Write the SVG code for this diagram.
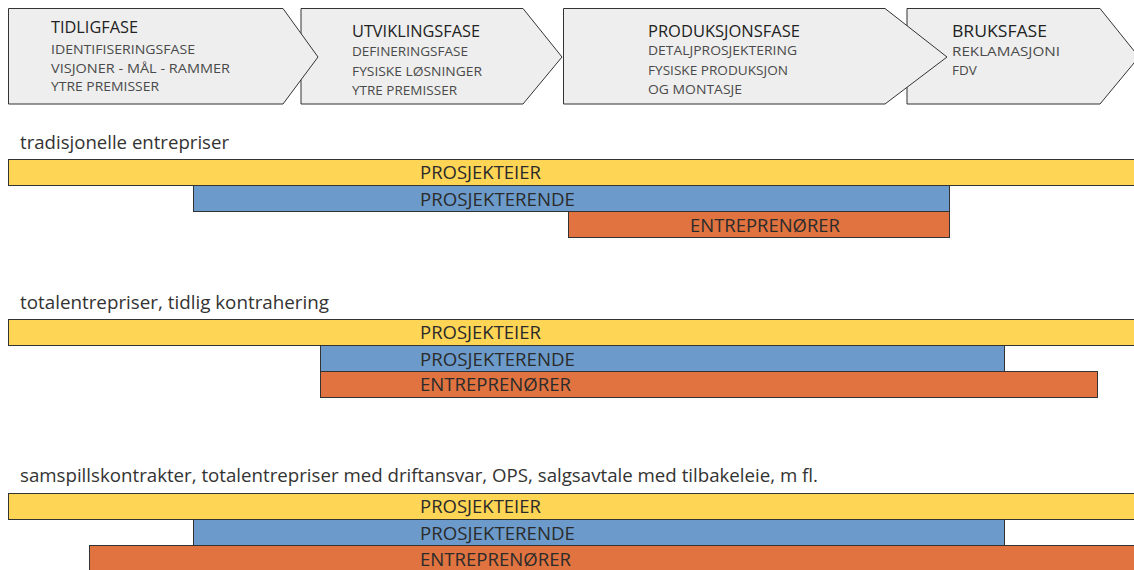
<svg xmlns="http://www.w3.org/2000/svg" width="1134" height="570" viewBox="0 0 1134 570">
<style>
.phase{fill:#eeeeee;stroke:#333;stroke-width:1}
text{font-family:"Open Sans","Noto Sans",sans-serif}
.pt{font-size:16px;fill:#222}
.ps{font-size:13.5px;fill:#4a4a4a}
.lbl{font-size:18px;fill:#333}
.bt{font-size:18px;fill:#2b2b2b}
.y{fill:#ffd555;stroke:#333;stroke-width:1}
.b{fill:#6c9bcb;stroke:#333;stroke-width:1}
.o{fill:#e07340;stroke:#333;stroke-width:1}
</style>
<rect width="1134" height="570" fill="#fff"/>
<g id="phase-bruksfase">
<path class="phase" d="M907,8.5 H1100 L1139,57 L1100,104 H907 Z"/>
<text class="pt" x="952" y="37" textLength="95" lengthAdjust="spacingAndGlyphs">BRUKSFASE</text>
<text class="ps" x="952" y="56" textLength="108" lengthAdjust="spacingAndGlyphs">REKLAMASJONI</text>
<text class="ps" x="952" y="75">FDV</text>
</g>
<g id="phase-produksjonsfase">
<path class="phase" d="M563.5,8.5 H885 L947,57 L885,104 H563.5 Z"/>
<text class="pt" x="648" y="37" textLength="152" lengthAdjust="spacingAndGlyphs">PRODUKSJONSFASE</text>
<text class="ps" x="648" y="55" textLength="149" lengthAdjust="spacingAndGlyphs">DETALJPROSJEKTERING</text>
<text class="ps" x="648" y="75" textLength="140" lengthAdjust="spacingAndGlyphs">FYSISKE PRODUKSJON</text>
<text class="ps" x="648" y="94" textLength="94" lengthAdjust="spacingAndGlyphs">OG MONTASJE</text>
</g>
<g id="phase-utviklingsfase">
<path class="phase" d="M301,8.5 H523 L562,57 L523,104 H301 Z"/>
<text class="pt" x="352" y="37" textLength="128" lengthAdjust="spacingAndGlyphs">UTVIKLINGSFASE</text>
<text class="ps" x="352" y="56" textLength="116" lengthAdjust="spacingAndGlyphs">DEFINERINGSFASE</text>
<text class="ps" x="352" y="76" textLength="130" lengthAdjust="spacingAndGlyphs">FYSISKE LØSNINGER</text>
<text class="ps" x="352" y="95" textLength="105" lengthAdjust="spacingAndGlyphs">YTRE PREMISSER</text>
</g>
<g id="phase-tidligfase">
<path class="phase" d="M8.5,8.5 H283 L318,57 L283,104 H8.5 Z"/>
<text class="pt" x="51" y="33" textLength="87" lengthAdjust="spacingAndGlyphs">TIDLIGFASE</text>
<text class="ps" x="51" y="54" textLength="144" lengthAdjust="spacingAndGlyphs">IDENTIFISERINGSFASE</text>
<text class="ps" x="51" y="73" textLength="179" lengthAdjust="spacingAndGlyphs">VISJONER - MÅL - RAMMER</text>
<text class="ps" x="51" y="91" textLength="108" lengthAdjust="spacingAndGlyphs">YTRE PREMISSER</text>
</g>

<g id="section-tradisjonelle">
<text class="lbl" x="20" y="149" textLength="209" lengthAdjust="spacingAndGlyphs">tradisjonelle entrepriser</text>
<g id="s1-prosjekteier"><rect class="y" x="8.5" y="159.5" width="1140" height="26"/><text class="bt" x="420" y="179" textLength="121" lengthAdjust="spacingAndGlyphs">PROSJEKTEIER</text></g>
<g id="s1-prosjekterende"><rect class="b" x="193.5" y="185.5" width="756" height="26"/><text class="bt" x="420" y="206" textLength="155" lengthAdjust="spacingAndGlyphs">PROSJEKTERENDE</text></g>
<g id="s1-entreprenorer"><rect class="o" x="568.5" y="211.5" width="381" height="26"/><text class="bt" x="690" y="232" textLength="150" lengthAdjust="spacingAndGlyphs">ENTREPRENØRER</text></g>
</g>

<g id="section-totalentrepriser">
<text class="lbl" x="20" y="309" textLength="309" lengthAdjust="spacingAndGlyphs">totalentrepriser, tidlig kontrahering</text>
<g id="s2-prosjekteier"><rect class="y" x="8.5" y="319.5" width="1140" height="26"/><text class="bt" x="420" y="339" textLength="121" lengthAdjust="spacingAndGlyphs">PROSJEKTEIER</text></g>
<g id="s2-prosjekterende"><rect class="b" x="320.5" y="345.5" width="684" height="26"/><text class="bt" x="420" y="366" textLength="155" lengthAdjust="spacingAndGlyphs">PROSJEKTERENDE</text></g>
<g id="s2-entreprenorer"><rect class="o" x="320.5" y="371.5" width="777" height="26"/><text class="bt" x="420" y="391" textLength="151" lengthAdjust="spacingAndGlyphs">ENTREPRENØRER</text></g>
</g>

<g id="section-samspill">
<text class="lbl" x="20" y="482" textLength="798" lengthAdjust="spacingAndGlyphs">samspillskontrakter, totalentrepriser med driftansvar, OPS, salgsavtale med tilbakeleie, m fl.</text>
<g id="s3-prosjekteier"><rect class="y" x="8.5" y="493.5" width="1140" height="26"/><text class="bt" x="420" y="513" textLength="121" lengthAdjust="spacingAndGlyphs">PROSJEKTEIER</text></g>
<g id="s3-prosjekterende"><rect class="b" x="193.5" y="519.5" width="811" height="26"/><text class="bt" x="420" y="540" textLength="155" lengthAdjust="spacingAndGlyphs">PROSJEKTERENDE</text></g>
<g id="s3-entreprenorer"><rect class="o" x="89.5" y="545.5" width="1060" height="30"/><text class="bt" x="420" y="566" textLength="151" lengthAdjust="spacingAndGlyphs">ENTREPRENØRER</text></g>
</g>
</svg>
